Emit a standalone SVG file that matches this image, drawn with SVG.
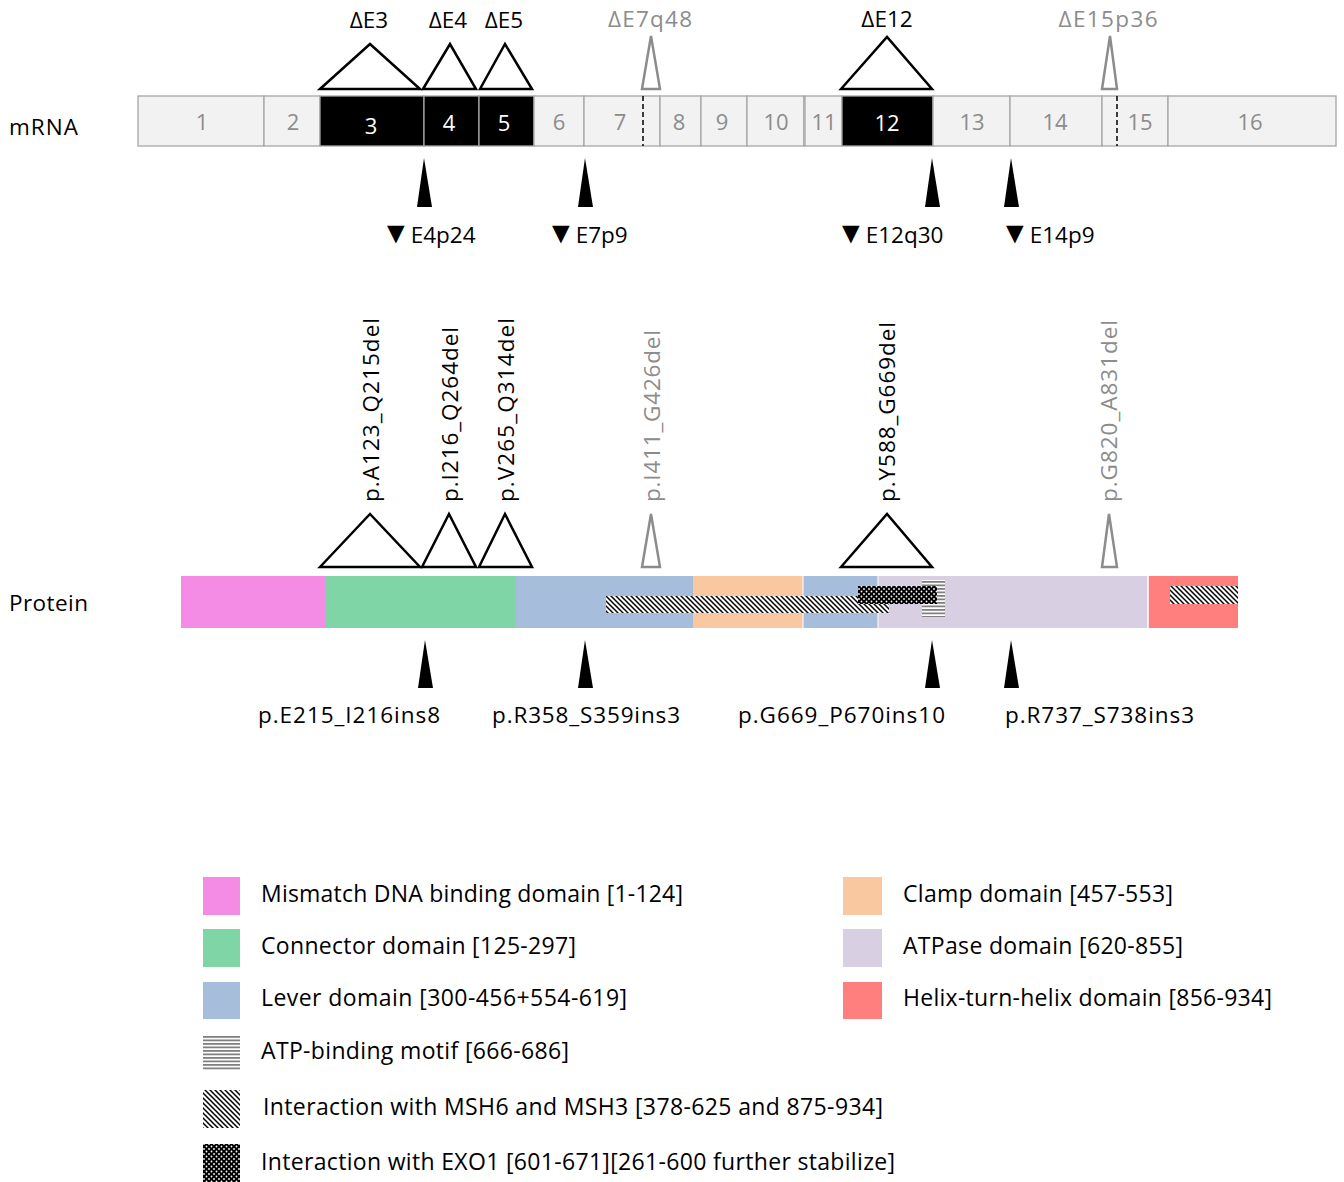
<svg xmlns="http://www.w3.org/2000/svg" width="1344" height="1182" viewBox="0 0 1344 1182">
<style>
text{font-family:"Open Sans","Liberation Sans",sans-serif;}
.ex{fill:#F2F2F2;stroke:#A6A6A6;stroke-width:1.3;}
.exb{fill:#000;stroke:#A6A6A6;stroke-width:1.3;}
.en{font-size:22px;fill:#8C8C8C;text-anchor:middle;}
.enw{font-size:22px;fill:#fff;text-anchor:middle;}
.tri{fill:#fff;stroke:#000;stroke-width:2.5;stroke-linejoin:miter;}
.trig{fill:#fff;stroke:#8C8C8C;stroke-width:2.5;}
.lbl{font-size:22.5px;fill:#000;}
.lblg{font-size:22.5px;fill:#8C8C8C;}
.mid{text-anchor:middle;}
.arr{fill:#000;}
.dash{stroke:#000;stroke-width:1.5;stroke-dasharray:5,3;}
.leg{font-size:23px;fill:#000;}
.tri-g{font-size:30px;}
</style>
<defs>
<pattern id="hatch" width="5" height="5" patternUnits="userSpaceOnUse">
<rect width="5" height="5" fill="#fff"/>
<path d="M-1,-1 L6,6 M-1,4 L1,6 M4,-1 L6,1" stroke="#000" stroke-width="1.5"/>
</pattern>
<pattern id="hlines" width="4" height="3.5" patternUnits="userSpaceOnUse">
<rect width="4" height="3.5" fill="#fff"/>
<rect y="0" width="4" height="1.8" fill="#808080"/>
</pattern>
<pattern id="dots" width="5" height="5" patternUnits="userSpaceOnUse">
<rect width="5" height="5" fill="#000"/>
<circle cx="1.5" cy="1.5" r="0.9" fill="#fff"/>
<circle cx="4" cy="4" r="0.9" fill="#fff"/>
</pattern>
</defs>

<text x="9" y="135" class="lbl" textLength="69">mRNA</text>
<text x="9" y="611" class="lbl" textLength="79">Protein</text>

<g id="mrna">
<g id="exon1"><rect class="ex" x="138" y="96" width="126" height="50"/><text class="en" x="202" y="130">1</text></g>
<g id="exon2"><rect class="ex" x="264" y="96" width="56" height="50"/><text class="en" x="293" y="130">2</text></g>
<g id="exon3"><rect class="exb" x="320" y="96" width="104" height="50"/><text class="enw" x="371" y="134">3</text></g>
<g id="exon4"><rect class="exb" x="424" y="96" width="55" height="50"/><text class="enw" x="449" y="131">4</text></g>
<g id="exon5"><rect class="exb" x="479" y="96" width="55" height="50"/><text class="enw" x="504" y="131">5</text></g>
<g id="exon6"><rect class="ex" x="534" y="96" width="50" height="50"/><text class="en" x="559" y="130">6</text></g>
<g id="exon7"><rect class="ex" x="584" y="96" width="76" height="50"/><text class="en" x="620" y="130">7</text><line class="dash" x1="643" y1="96" x2="643" y2="146"/></g>
<g id="exon8"><rect class="ex" x="660" y="96" width="41" height="50"/><text class="en" x="679" y="130">8</text></g>
<g id="exon9"><rect class="ex" x="701" y="96" width="46" height="50"/><text class="en" x="722" y="130">9</text></g>
<g id="exon10"><rect class="ex" x="747" y="96" width="57" height="50"/><text class="en" x="776" y="130">10</text></g>
<g id="exon11"><rect class="ex" x="804" y="96" width="38" height="50"/><line x1="805" y1="96" x2="805" y2="146" stroke="#A6A6A6" stroke-width="1.3"/><text class="en" x="824" y="130">11</text></g>
<g id="exon12"><rect class="exb" x="842" y="96" width="91" height="50"/><text class="enw" x="887" y="131">12</text></g>
<g id="exon13"><rect class="ex" x="933" y="96" width="77" height="50"/><text class="en" x="972" y="130">13</text></g>
<g id="exon14"><rect class="ex" x="1010" y="96" width="92" height="50"/><text class="en" x="1055" y="130">14</text></g>
<g id="exon15"><rect class="ex" x="1102" y="96" width="66" height="50"/><line class="dash" x1="1117" y1="96" x2="1117" y2="146"/><text class="en" x="1140" y="130">15</text></g>
<g id="exon16"><rect class="ex" x="1168" y="96" width="168" height="50"/><text class="en" x="1250" y="130">16</text></g>
</g>

<g id="mrna-deletions">
<g id="dE3"><polygon class="tri" points="320,89 370,44 420,89"/><text class="lbl mid" x="369" y="28">ΔE3</text></g>
<g id="dE4"><polygon class="tri" points="423,89 450,44 476,89"/><text class="lbl mid" x="448" y="28">ΔE4</text></g>
<g id="dE5"><polygon class="tri" points="480,89 505,44 532,89"/><text class="lbl mid" x="504" y="28">ΔE5</text></g>
<g id="dE7q48"><polygon class="trig" points="642,89 651,36 660,89"/><text class="lblg mid" x="650" y="27" textLength="84">ΔE7q48</text></g>
<g id="dE12"><polygon class="tri" points="841,89 887,37 932,89"/><text class="lbl mid" x="887" y="27">ΔE12</text></g>
<g id="dE15p36"><polygon class="trig" points="1102,89 1110,36 1117,89"/><text class="lblg mid" x="1108" y="27" textLength="99">ΔE15p36</text></g>
</g>

<g id="mrna-insertions">
<g id="E4p24"><polygon class="arr" points="424,158 417,207 432,207"/><text class="lbl" x="381" y="243"><tspan class="tri-g">▼</tspan>E4p24</text></g>
<g id="E7p9"><polygon class="arr" points="585,158 578,207 593,207"/><text class="lbl" x="546" y="243"><tspan class="tri-g">▼</tspan>E7p9</text></g>
<g id="E12q30"><polygon class="arr" points="932,158 925,207 940,207"/><text class="lbl" x="836" y="243"><tspan class="tri-g">▼</tspan>E12q30</text></g>
<g id="E14p9"><polygon class="arr" points="1011,158 1004,207 1019,207"/><text class="lbl" x="1000" y="243"><tspan class="tri-g">▼</tspan>E14p9</text></g>
</g>

<g id="protein">
<rect x="181" y="576" width="144" height="52" fill="#F48BE4"/>
<rect x="325" y="576" width="190" height="52" fill="#80D5A6"/>
<rect x="515" y="576" width="178" height="52" fill="#A6BEDC"/>
<rect x="693" y="576" width="110" height="52" fill="#F9C8A0"/>
<rect x="803" y="576" width="75" height="52" fill="#A6BEDC"/>
<rect x="878" y="576" width="270" height="52" fill="#D8CFE2"/>
<rect x="1148" y="576" width="90" height="52" fill="#FF7F7F"/>
<line x1="803" y1="576" x2="803" y2="628" stroke="#fff" stroke-width="1"/>
<line x1="878" y1="576" x2="878" y2="628" stroke="#fff" stroke-width="1"/>
<line x1="1148" y1="576" x2="1148" y2="628" stroke="#fff" stroke-width="1.5"/>
<rect x="606" y="596" width="283" height="17" fill="url(#hatch)"/>
<rect x="1170" y="586" width="68" height="18" fill="url(#hatch)"/>
<rect x="922" y="580" width="23" height="37" fill="url(#hlines)"/>
<rect x="858" y="586" width="79" height="18" fill="url(#dots)"/>
</g>

<g id="protein-deletions">
<g id="pA123"><polygon class="tri" points="320,567 370,514 420,567"/><text class="lbl" transform="translate(379,502) rotate(-90)" textLength="184">p.A123_Q215del</text></g>
<g id="pI216"><polygon class="tri" points="422,567 449,514 476,567"/><text class="lbl" transform="translate(458,502) rotate(-90)" textLength="175">p.I216_Q264del</text></g>
<g id="pV265"><polygon class="tri" points="479,567 505,514 532,567"/><text class="lbl" transform="translate(514,502) rotate(-90)" textLength="184">p.V265_Q314del</text></g>
<g id="pI411"><polygon class="trig" points="642,567 651,514 660,567"/><text class="lblg" transform="translate(660,502) rotate(-90)" textLength="172">p.I411_G426del</text></g>
<g id="pY588"><polygon class="tri" points="841,567 887,514 932,567"/><text class="lbl" transform="translate(895,502) rotate(-90)" textLength="180">p.Y588_G669del</text></g>
<g id="pG820"><polygon class="trig" points="1102,567 1109,514 1117,567"/><text class="lblg" transform="translate(1117,502) rotate(-90)" textLength="182">p.G820_A831del</text></g>
</g>

<g id="protein-insertions">
<g id="pE215"><polygon class="arr" points="425,640 418,688 433,688"/><text class="lbl" x="258" y="723" textLength="182">p.E215_I216ins8</text></g>
<g id="pR358"><polygon class="arr" points="585,640 578,688 593,688"/><text class="lbl" x="492" y="723" textLength="188">p.R358_S359ins3</text></g>
<g id="pG669"><polygon class="arr" points="932,640 925,688 940,688"/><text class="lbl" x="738" y="723" textLength="207">p.G669_P670ins10</text></g>
<g id="pR737"><polygon class="arr" points="1011,640 1004,688 1019,688"/><text class="lbl" x="1005" y="723" textLength="189">p.R737_S738ins3</text></g>
</g>

<g id="legend">
<g id="leg1"><rect x="203" y="877" width="37" height="38" fill="#F48BE4"/><text class="leg" x="261" y="902" textLength="422">Mismatch DNA binding domain [1-124]</text></g>
<g id="leg2"><rect x="203" y="929" width="37" height="38" fill="#80D5A6"/><text class="leg" x="261" y="954" textLength="315">Connector domain [125-297]</text></g>
<g id="leg3"><rect x="203" y="982" width="37" height="37" fill="#A6BEDC"/><text class="leg" x="261" y="1006" textLength="366">Lever domain [300-456+554-619]</text></g>
<g id="leg4"><rect x="203" y="1036" width="37" height="35" fill="url(#hlines)"/><text class="leg" x="261" y="1059" textLength="308">ATP-binding motif [666-686]</text></g>
<g id="leg5"><rect x="203" y="1090" width="37" height="38" fill="url(#hatch)"/><text class="leg" x="263" y="1115" textLength="620">Interaction with MSH6 and MSH3 [378-625 and 875-934]</text></g>
<g id="leg6"><rect x="203" y="1144" width="37" height="38" fill="url(#dots)"/><text class="leg" x="261" y="1170" textLength="634">Interaction with EXO1 [601-671][261-600 further stabilize]</text></g>
<g id="leg7"><rect x="843" y="877" width="39" height="38" fill="#F9C8A0"/><text class="leg" x="903" y="902" textLength="270">Clamp domain [457-553]</text></g>
<g id="leg8"><rect x="843" y="929" width="39" height="38" fill="#D8CFE2"/><text class="leg" x="903" y="954" textLength="280">ATPase domain [620-855]</text></g>
<g id="leg9"><rect x="843" y="982" width="39" height="37" fill="#FF7F7F"/><text class="leg" x="903" y="1006" textLength="369">Helix-turn-helix domain [856-934]</text></g>
</g>
</svg>
